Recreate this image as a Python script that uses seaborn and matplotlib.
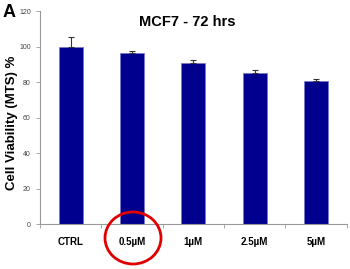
import matplotlib
matplotlib.use("Agg")
import matplotlib.pyplot as plt
from matplotlib.patches import Ellipse
import seaborn as sns
import pandas as pd

categories = ["CTRL", "0.5µM", "1µM", "2.5µM", "5µM"]
viability = [100, 96.2, 91.0, 84.9, 80.4]
error = [5.3, 1.4, 1.2, 2.1, 1.5]

df = pd.DataFrame({"treatment": categories, "viability": viability})

sns.set_style("white")
plt.rcParams["font.family"] = ["Liberation Sans", "DejaVu Sans"]
plt.rcParams["text.color"] = "black"
plt.rcParams["axes.labelcolor"] = "black"

fig = plt.figure(figsize=(3.5, 2.69), dpi=100)
ax = fig.add_axes([0.114, 0.167, 0.877, 0.792])

sns.barplot(data=df, x="treatment", y="viability", color="#00008F",
            saturation=1, width=0.39, edgecolor="#7777cc", linewidth=0.5, ax=ax)
ax.errorbar(range(len(categories)), viability, yerr=[[0] * 5, error],
            fmt="none", ecolor="#333333", elinewidth=0.8, capsize=2.5, capthick=0.8)

ax.set_ylim(0, 120)
ax.set_xlim(-0.5, 4.5)
ax.set_yticks(range(0, 121, 20))
ax.tick_params(axis="y", labelsize=5, labelcolor="#444444", length=3, color="#999999", width=0.6, left=True)
ax.set_xticks(range(5))
ax.set_xticklabels(categories, fontsize=7, fontweight="bold")
ax.tick_params(axis="x", which="major", length=0, pad=9, labelcolor="black")
ax.set_xticks([i - 0.5 for i in range(6)], minor=True)
ax.tick_params(axis="x", which="minor", length=3, color="#999999", width=0.6, bottom=True)

for s in ["top", "right"]:
    ax.spines[s].set_visible(False)
for s in ["left", "bottom"]:
    ax.spines[s].set_color("#999999")
    ax.spines[s].set_linewidth(0.8)

ax.set_xlabel("")
ax.set_ylabel("Cell Viability (MTS) %", fontsize=9.5, fontweight="bold", va="center")
ax.yaxis.set_label_coords(-0.092, 0.474)
ax.set_title("MCF7 - 72 hrs", fontsize=10.5, fontweight="bold", pad=-11, x=0.48)

fig.text(0.006, 0.985, "A", fontsize=13, fontweight="bold", va="top", ha="left")
fig.add_artist(Ellipse((133 / 350, 1 - 238 / 269), 56 / 350, 52 / 269,
                       transform=fig.transFigure, fill=False, edgecolor="#e00000", lw=2))

fig.savefig("out.png", dpi=100)
